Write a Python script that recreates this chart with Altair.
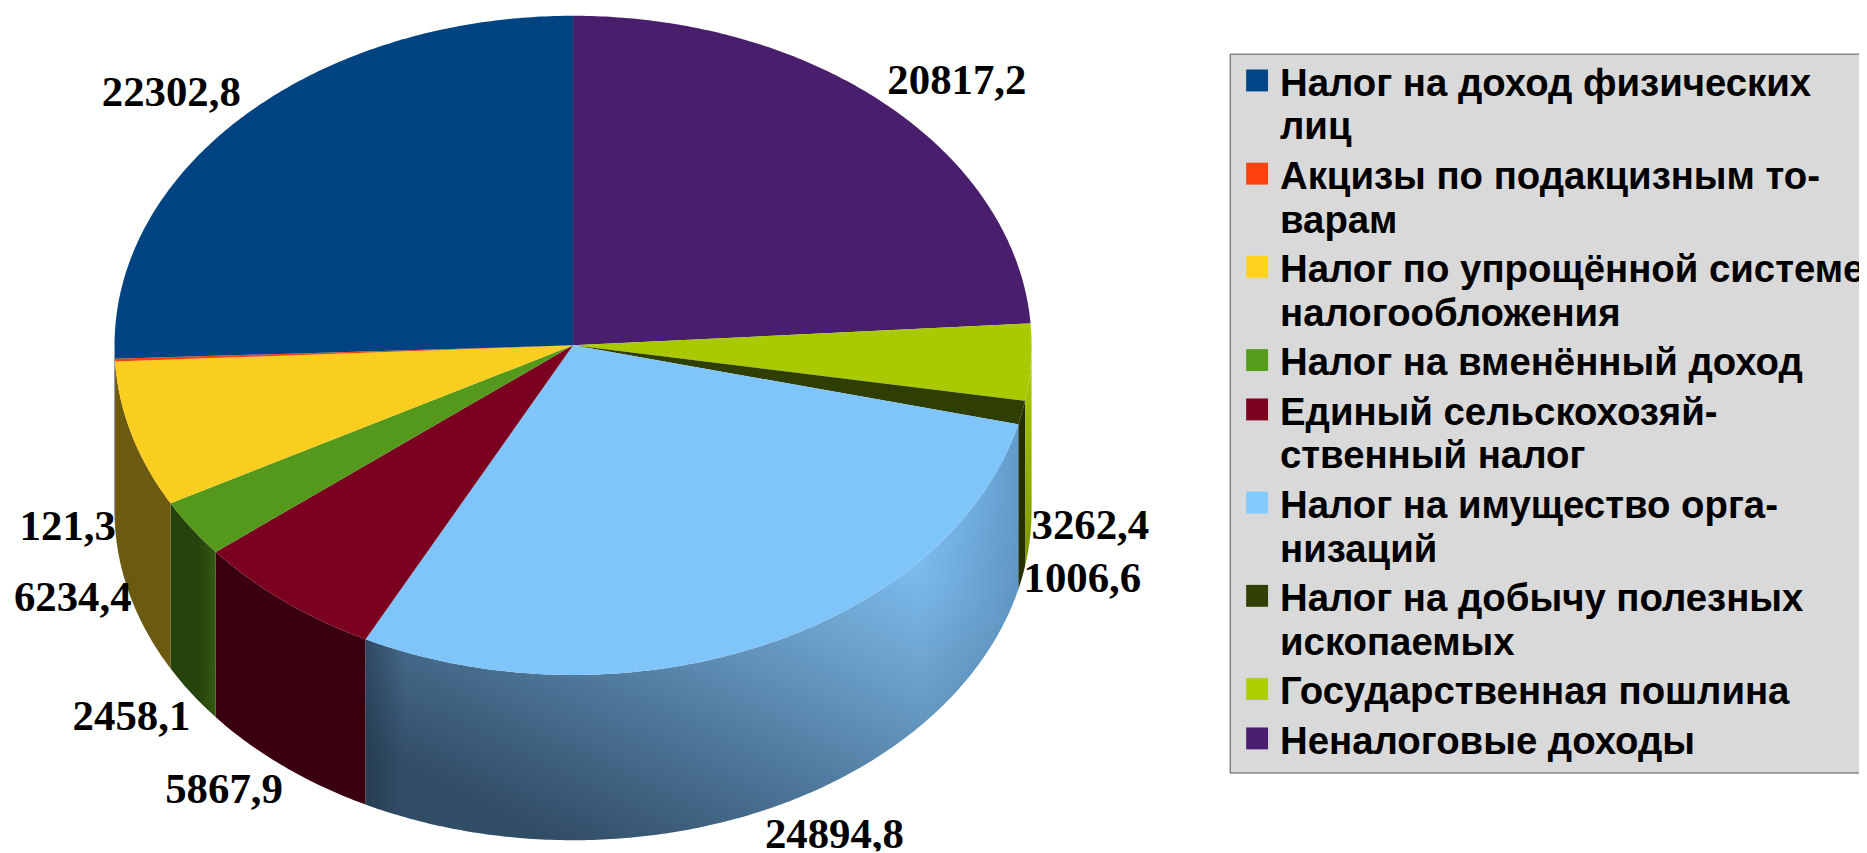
import math
import altair as alt

# --- chart data, in legend order ---
categories = ["Налог на доход физических|лиц", "Акцизы по подакцизным то-|варам",
              "Налог по упрощённой системе|налогообложения", "Налог на вменённый доход",
              "Единый сельскохозяй-|ственный налог", "Налог на имущество орга-|низаций",
              "Налог на добычу полезных|ископаемых", "Государственная пошлина", "Неналоговые доходы"]
values = [22302.8, 121.3, 6234.4, 2458.1, 5867.9, 24894.8, 1006.6, 3262.4, 20817.2]
colors = ["#004586", "#ff420e", "#ffd320", "#579d1c", "#7e0021", "#83caff", "#314004", "#aecf00", "#4b1f6f"]
wall_colors = ["#00203f", "#7a2006", "#6b5a10", "#26430b", "#3a0010", "#5f93bf", "#262f02", "#8fa800", "#2a1040"]

# --- geometry of the tilted pie (page pixels less the 8px margin) ---
CX, CY, RX, RY, DEPTH = 567.5, 337, 460.5, 331, 166
LABEL_POS = [(164, 84), (60, 519), (65, 591), (124, 710), (217, 784),
             (830, 829), (1079, 572), (1087, 518), (953, 72)]

total = sum(values)
order = [8, 7, 6, 5, 4, 3, 2, 1, 0]  # clockwise from 12 o'clock


def pt(t, dy=0):
    return [CX + RX * math.sin(t), CY - RY * math.cos(t) + dy]


def arc(a, b, dy=0):
    n = max(2, int(abs(b - a) / 0.01))
    return [pt(a + (b - a) * i / n, dy) for i in range(n + 1)]


tops, walls = [], []
acc = 0.0
for i in order:
    a = acc / total * 2 * math.pi
    acc += values[i]
    b = acc / total * 2 * math.pi
    ring = [[CX, CY]] + arc(a, b) + [[CX, CY]]
    tops.append({"type": "Feature", "properties": {"name": categories[i]},
                 "geometry": {"type": "Polygon", "coordinates": [ring]}})
    wa, wb = max(a, math.pi / 2), min(b, 3 * math.pi / 2)
    if wb > wa:
        ring = arc(wa, wb) + arc(wb, wa, DEPTH)
        ring.append(ring[0])
        walls.append({"type": "Feature", "properties": {"name": categories[i], "wall": wall_colors[i]},
                      "geometry": {"type": "Polygon", "coordinates": [ring]}})

blue_name = categories[5]
green_name = categories[3]
lime_name = categories[7]
plain_walls = [w for w in walls if w["properties"]["name"] not in (blue_name, green_name, lime_name)]
blue_wall = [w for w in walls if w["properties"]["name"] == blue_name]
green_wall = [w for w in walls if w["properties"]["name"] == green_name]
lime_wall = [w for w in walls if w["properties"]["name"] == lime_name]

proj = alt.Projection(type="identity", scale=1, translate=[0, 0])


def grad(x1, y1, x2, y2, stops):
    return alt.LinearGradient(gradient="linear", x1=x1, y1=y1, x2=x2, y2=y2,
                              stops=[alt.GradientStop(offset=o, color=c) for o, c in stops])


wall_layer = alt.Chart(alt.Data(values=plain_walls)).mark_geoshape(strokeWidth=0).encode(
    fill=alt.Fill("properties.wall:N", scale=None), ).project(**proj.to_dict())
blue_layer = alt.Chart(alt.Data(values=blue_wall)).mark_geoshape(strokeWidth=0, fill=grad(
    0.95, 0.15, 0.3, 1.0,
    [(0, "#80c4f9"), (0.22, "#7ab9ea"), (0.42, "#6a9fc8"), (0.7, "#4d7699"), (1, "#324d66")])).encode(
    detail="properties.name:N").project(**proj.to_dict())
blue_rim = alt.Chart(alt.Data(values=blue_wall)).mark_geoshape(strokeWidth=0, fill=grad(
    0, 0, 1, 0,
    [(0, "rgba(30,50,70,0.55)"), (0.06, "rgba(30,50,70,0)"), (0.85, "rgba(30,60,90,0)"),
     (1, "rgba(30,60,90,0.3)")])).encode(detail="properties.name:N").project(**proj.to_dict())
green_layer = alt.Chart(alt.Data(values=green_wall)).mark_geoshape(strokeWidth=0, fill=grad(
    0, 0, 1, 0, [(0, "#26430b"), (0.6, "#26430b"), (1, "#335a10")])).encode(
    detail="properties.name:N").project(**proj.to_dict())
lime_layer = alt.Chart(alt.Data(values=lime_wall)).mark_geoshape(strokeWidth=0, fill=grad(
    0, 0, 0, 1, [(0, "#aecf00"), (1, "#7f9400")])).encode(
    detail="properties.name:N").project(**proj.to_dict())

top_layer = alt.Chart(alt.Data(values=tops)).mark_geoshape(strokeWidth=0).encode(
    color=alt.Color("properties.name:N",
                    scale=alt.Scale(domain=categories, range=colors),
                    sort=categories,
                    legend=alt.Legend(
                        title=None, orient="none", legendX=1227, legendY=44,
                        fillColor="#d9d9d9", strokeColor="#555555", padding=11,
                        symbolType="M-1.25,-1.3H0.75V0.7H-1.25Z", symbolSize=484, symbolStrokeWidth=0,
                        labelFont="Liberation Sans", labelFontWeight="bold", labelFontSize=38.5,
                        labelColor="black", labelLimit=800, labelOffset=1, rowPadding=10.6,
                        labelExpr="split(datum.label,'|')",
                    ))).project(**proj.to_dict())
# the lit top face is a shade darker than the legend swatches
shade_layer = alt.Chart(alt.Data(values=tops)).mark_geoshape(
    strokeWidth=0, fill="black", fillOpacity=0.025).encode(
    detail="properties.name:N").project(**proj.to_dict())

labels = [{"x": LABEL_POS[i][0], "y": LABEL_POS[i][1],
           "text": f"{values[i]:.1f}".replace(".", ",")} for i in range(len(values))]
text_layer = alt.Chart(alt.Data(values=labels)).mark_text(
    font="Liberation Serif", fontWeight="bold", fontSize=43, color="black",
    align="center", baseline="middle").encode(
    longitude="x:Q", latitude="y:Q", text="text:N").project(**proj.to_dict())

chart = alt.layer(wall_layer, blue_layer, blue_rim, green_layer, lime_layer, top_layer, shade_layer,
                  text_layer).properties(
    width=1859, height=845, padding=0, autosize=alt.AutoSizeParams(type="none"),
).configure_view(stroke=None).configure(
    style={"guide-label": {"lineHeight": 44}})

chart.save("out.html", embed_options={"renderer": "svg", "actions": False})
